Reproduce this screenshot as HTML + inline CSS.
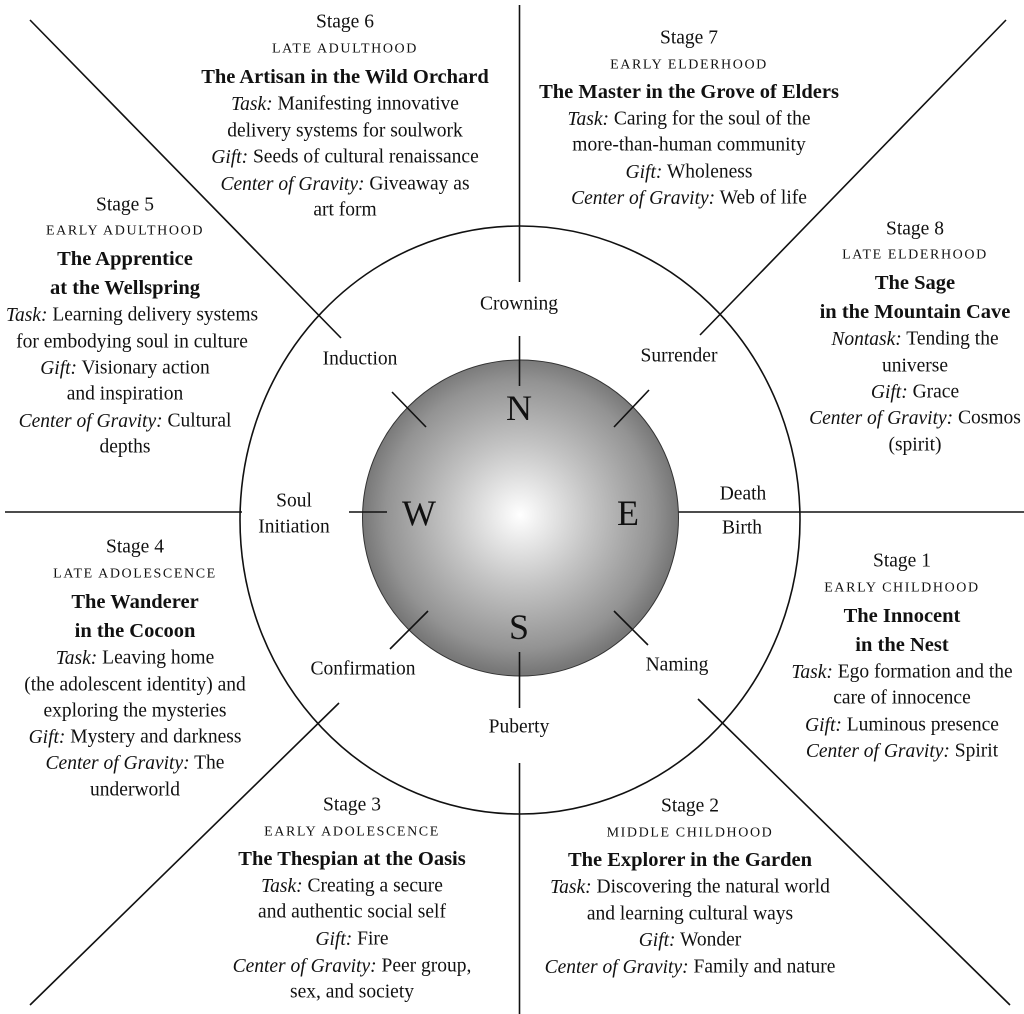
<!DOCTYPE html>
<html><head><meta charset="utf-8"><style>
html,body{margin:0;padding:0;background:#fff;}
svg{display:block;}
text{font-family:"Liberation Serif",serif;font-size:19.5px;fill:#111;text-anchor:middle;dominant-baseline:central;}
.sc{font-size:14px;letter-spacing:1.6px;}
.b{font-weight:bold;font-size:20.5px;}
.i{font-style:italic;}
.big{font-size:36px;}
</style></head><body>
<svg width="1024" height="1014" viewBox="0 0 1024 1014" xmlns="http://www.w3.org/2000/svg">
<defs>
<radialGradient id="g" cx="520" cy="515" r="158" gradientUnits="userSpaceOnUse">
<stop offset="0" stop-color="#ffffff"/>
<stop offset="0.45" stop-color="#c4c4c4"/>
<stop offset="0.85" stop-color="#939393"/>
<stop offset="1" stop-color="#777777"/>
</radialGradient>
</defs>
<g stroke="#111" stroke-width="1.6" fill="none">
<ellipse cx="520" cy="520" rx="280" ry="294"/>
<line x1="519.5" y1="5" x2="519.5" y2="282"/>
<line x1="519.5" y1="763" x2="519.5" y2="1014"/>
<line x1="5" y1="512" x2="242" y2="512"/>
<line x1="653" y1="512" x2="1024" y2="512"/>
<line x1="30" y1="20" x2="341" y2="338"/>
<line x1="1006" y1="20" x2="700" y2="335"/>
<line x1="30" y1="1005" x2="339" y2="703"/>
<line x1="1010" y1="1005" x2="698" y2="699"/>
</g>
<circle cx="520.5" cy="518" r="158" fill="url(#g)" stroke="#333" stroke-width="1"/>
<g stroke="#111" stroke-width="1.6">
<line x1="519.5" y1="336" x2="519.5" y2="386"/>
<line x1="519.5" y1="652" x2="519.5" y2="708"/>
<line x1="349" y1="512" x2="387" y2="512"/>
<line x1="392" y1="392" x2="426" y2="427"/>
<line x1="614" y1="427" x2="649" y2="390"/>
<line x1="390" y1="649" x2="428" y2="611"/>
<line x1="614" y1="611" x2="648" y2="645"/>
</g>
<text class="big" x="519" y="408">N</text>
<text class="big" x="419" y="513">W</text>
<text class="big" x="628" y="513">E</text>
<text class="big" x="519" y="627">S</text>

<text x="519" y="304">Crowning</text>
<text x="360" y="359">Induction</text>
<text x="679" y="356">Surrender</text>
<text x="294" y="501">Soul</text>
<text x="294" y="527">Initiation</text>
<text x="743" y="494">Death</text>
<text x="742" y="528">Birth</text>
<text x="363" y="669">Confirmation</text>
<text x="677" y="665">Naming</text>
<text x="519" y="727">Puberty</text>

<!-- Stage 6 -->
<text x="345" y="22">Stage 6</text>
<text class="sc" x="345" y="49">LATE ADULTHOOD</text>
<text class="b" x="345" y="77">The Artisan in the Wild Orchard</text>
<text x="345" y="104"><tspan class="i">Task:</tspan> Manifesting innovative</text>
<text x="345" y="131">delivery systems for soulwork</text>
<text x="345" y="157"><tspan class="i">Gift:</tspan> Seeds of cultural renaissance</text>
<text x="345" y="184"><tspan class="i">Center of Gravity:</tspan> Giveaway as</text>
<text x="345" y="210">art form</text>

<!-- Stage 7 -->
<text x="689" y="38">Stage 7</text>
<text class="sc" x="689" y="65">EARLY ELDERHOOD</text>
<text class="b" x="689" y="92">The Master in the Grove of Elders</text>
<text x="689" y="119"><tspan class="i">Task:</tspan> Caring for the soul of the</text>
<text x="689" y="145">more-than-human community</text>
<text x="689" y="172"><tspan class="i">Gift:</tspan> Wholeness</text>
<text x="689" y="198"><tspan class="i">Center of Gravity:</tspan> Web of life</text>

<!-- Stage 5 -->
<text x="125" y="205">Stage 5</text>
<text class="sc" x="125" y="231">EARLY ADULTHOOD</text>
<text class="b" x="125" y="259">The Apprentice</text>
<text class="b" x="125" y="288">at the Wellspring</text>
<text x="132" y="315"><tspan class="i">Task:</tspan> Learning delivery systems</text>
<text x="132" y="342">for embodying soul in culture</text>
<text x="125" y="368"><tspan class="i">Gift:</tspan> Visionary action</text>
<text x="125" y="394">and inspiration</text>
<text x="125" y="421"><tspan class="i">Center of Gravity:</tspan> Cultural</text>
<text x="125" y="447">depths</text>

<!-- Stage 8 -->
<text x="915" y="229">Stage 8</text>
<text class="sc" x="915" y="255">LATE ELDERHOOD</text>
<text class="b" x="915" y="283">The Sage</text>
<text class="b" x="915" y="312">in the Mountain Cave</text>
<text x="915" y="339"><tspan class="i">Nontask:</tspan> Tending the</text>
<text x="915" y="366">universe</text>
<text x="915" y="392"><tspan class="i">Gift:</tspan> Grace</text>
<text x="915" y="418"><tspan class="i">Center of Gravity:</tspan> Cosmos</text>
<text x="915" y="445">(spirit)</text>

<!-- Stage 4 -->
<text x="135" y="547">Stage 4</text>
<text class="sc" x="135" y="574">LATE ADOLESCENCE</text>
<text class="b" x="135" y="602">The Wanderer</text>
<text class="b" x="135" y="631">in the Cocoon</text>
<text x="135" y="658"><tspan class="i">Task:</tspan> Leaving home</text>
<text x="135" y="685">(the adolescent identity) and</text>
<text x="135" y="711">exploring the mysteries</text>
<text x="135" y="737"><tspan class="i">Gift:</tspan> Mystery and darkness</text>
<text x="135" y="763"><tspan class="i">Center of Gravity:</tspan> The</text>
<text x="135" y="790">underworld</text>

<!-- Stage 1 -->
<text x="902" y="561">Stage 1</text>
<text class="sc" x="902" y="588">EARLY CHILDHOOD</text>
<text class="b" x="902" y="616">The Innocent</text>
<text class="b" x="902" y="645">in the Nest</text>
<text x="902" y="672"><tspan class="i">Task:</tspan> Ego formation and the</text>
<text x="902" y="698">care of innocence</text>
<text x="902" y="725"><tspan class="i">Gift:</tspan> Luminous presence</text>
<text x="902" y="751"><tspan class="i">Center of Gravity:</tspan> Spirit</text>

<!-- Stage 3 -->
<text x="352" y="805">Stage 3</text>
<text class="sc" x="352" y="832">EARLY ADOLESCENCE</text>
<text class="b" x="352" y="859">The Thespian at the Oasis</text>
<text x="352" y="886"><tspan class="i">Task:</tspan> Creating a secure</text>
<text x="352" y="912">and authentic social self</text>
<text x="352" y="939"><tspan class="i">Gift:</tspan> Fire</text>
<text x="352" y="966"><tspan class="i">Center of Gravity:</tspan> Peer group,</text>
<text x="352" y="992">sex, and society</text>

<!-- Stage 2 -->
<text x="690" y="806">Stage 2</text>
<text class="sc" x="690" y="833">MIDDLE CHILDHOOD</text>
<text class="b" x="690" y="860">The Explorer in the Garden</text>
<text x="690" y="887"><tspan class="i">Task:</tspan> Discovering the natural world</text>
<text x="690" y="914">and learning cultural ways</text>
<text x="690" y="940"><tspan class="i">Gift:</tspan> Wonder</text>
<text x="690" y="967"><tspan class="i">Center of Gravity:</tspan> Family and nature</text>
</svg>
</body></html>
